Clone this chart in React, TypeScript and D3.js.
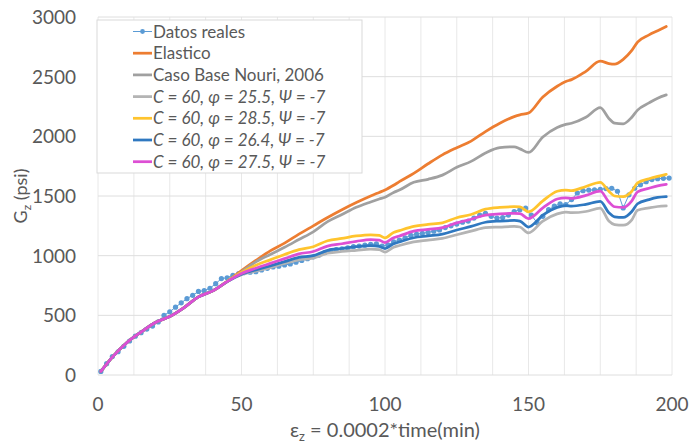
import React, { useRef, useEffect } from 'react';
import * as d3 from 'd3';

// x positions (strain units) shared by the model curves
const modelX = [1, 5, 10, 15, 20, 25, 30, 35, 40, 45, 50, 55, 60, 65, 70, 75, 80, 85, 90, 95, 98, 100, 103, 105, 110, 115, 120, 125, 130, 135, 140, 145, 147, 150, 155, 160, 163, 165, 170, 175, 178, 180, 183, 186, 188, 192, 195, 198];

const early = [30, 150, 270, 360, 440, 490, 565, 655, 705, 782];

const elastico = [...early.slice(0, 9), 785, 875, 960, 1040, 1105, 1180, 1250, 1320, 1385, 1445, 1500, 1530, 1550, 1590, 1620, 1690, 1770, 1845, 1905, 1960, 2040, 2110, 2165, 2180, 2195, 2330, 2420, 2460, 2475, 2545, 2630, 2610, 2605, 2645, 2720, 2790, 2850, 2885, 2920];
const casoBase = [...early, 865, 948, 1010, 1070, 1135, 1200, 1285, 1345, 1405, 1450, 1475, 1490, 1530, 1550, 1615, 1640, 1675, 1740, 1790, 1860, 1905, 1912, 1895, 1865, 1995, 2075, 2100, 2110, 2160, 2240, 2150, 2110, 2105, 2160, 2220, 2280, 2320, 2347];
const phi255 = [...early, 840, 870, 900, 935, 965, 980, 1020, 1035, 1045, 1055, 1050, 1030, 1070, 1085, 1115, 1130, 1145, 1175, 1205, 1235, 1240, 1245, 1240, 1190, 1290, 1350, 1365, 1360, 1370, 1398, 1290, 1260, 1255, 1300, 1380, 1400, 1412, 1417];
const phi285 = [...early.slice(0, 9), 785, 860, 920, 965, 1010, 1050, 1075, 1125, 1145, 1165, 1175, 1170, 1150, 1195, 1210, 1245, 1262, 1275, 1318, 1345, 1390, 1405, 1410, 1408, 1368, 1460, 1540, 1550, 1545, 1580, 1615, 1540, 1500, 1495, 1540, 1610, 1645, 1665, 1682];
const phi264 = [...early, 845, 880, 915, 950, 985, 1000, 1045, 1060, 1075, 1085, 1078, 1060, 1100, 1115, 1150, 1165, 1180, 1215, 1245, 1280, 1290, 1295, 1290, 1240, 1340, 1405, 1420, 1415, 1430, 1455, 1360, 1325, 1320, 1370, 1435, 1470, 1488, 1495];
const phi275 = [...early, 850, 895, 935, 975, 1015, 1035, 1080, 1100, 1120, 1135, 1130, 1110, 1150, 1165, 1205, 1220, 1235, 1275, 1305, 1340, 1350, 1355, 1353, 1310, 1400, 1475, 1485, 1480, 1505, 1540, 1450, 1410, 1405, 1460, 1535, 1565, 1585, 1598];

// measured data, every 2 strain units
const realX = d3.range(1, 200, 2);
const realY = [30, 95, 155, 195, 240, 285, 325, 355, 385, 410, 445, 500, 530, 568, 605, 640, 668, 700, 707, 727,
  765, 808, 815, 835, 850, 858, 862, 866, 880, 894, 905, 912, 922, 930, 945, 960, 975, 990, 1005, 1025,
  1040, 1050, 1058, 1065, 1075, 1080, 1088, 1095, 1098, 1080, 1090, 1115, 1130, 1150, 1170, 1180, 1188, 1195, 1205, 1215,
  1235, 1250, 1265, 1280, 1290, 1315, 1340, 1355, 1330, 1315, 1320, 1340, 1370, 1385, 1398, 1340, 1275, 1330, 1385, 1415,
  1435, 1428, 1470, 1525, 1545, 1550, 1552, 1556, 1562, 1565, 1540, 1400, 1510, 1565, 1595, 1620, 1638, 1645, 1648, 1650];

const xTicks = [0, 50, 100, 150, 200];
const yTicks = [0, 500, 1000, 1500, 2000, 2500, 3000];

const models = [
  { name: 'Elastico', values: elastico, color: '#ED7D31', italic: false },
  { name: 'Caso Base Nouri, 2006', values: casoBase, color: '#A0A0A0', italic: false },
  { name: 'C = 60, φ = 25.5, Ψ = -7', values: phi255, color: '#B4B4B4', italic: true },
  { name: 'C = 60, φ = 28.5, Ψ = -7', values: phi285, color: '#FFC42E', italic: true },
  { name: 'C = 60, φ = 26.4, Ψ = -7', values: phi264, color: '#2F78C0', italic: true },
  { name: 'C = 60, φ = 27.5, Ψ = -7', values: phi275, color: '#DD4FD4', italic: true },
];

const FONT = 'Lato, "Open Sans", sans-serif';
const TEXT = '#595959';

const App = () => {
  const svgRef = useRef(null);

  useEffect(() => {
    const width = 693;
    const height = 443;
    const margin = { top: 17, right: 21, bottom: 68, left: 98 };
    const innerWidth = width - margin.left - margin.right;
    const innerHeight = height - margin.top - margin.bottom;

    const root = d3.select(svgRef.current);
    root.selectAll('*').remove();
    root.attr('width', width).attr('height', height);
    root.append('rect').attr('width', width).attr('height', height).attr('fill', '#fff');

    const svg = root.append('g').attr('transform', `translate(${margin.left},${margin.top})`);

    const x = d3.scaleLinear().domain([0, 200]).range([0, innerWidth]);
    const y = d3.scaleLinear().domain([0, 3000]).range([innerHeight, 0]);

    // vertical grid every 12.5
    svg.append('g')
      .selectAll('line')
      .data(d3.range(0, 200.01, 12.5))
      .join('line')
      .attr('x1', d => x(d)).attr('x2', d => x(d))
      .attr('y1', 0).attr('y2', innerHeight)
      .attr('stroke', '#e8e8e8').attr('stroke-width', 1);

    // horizontal grid
    svg.append('g')
      .selectAll('line')
      .data(yTicks)
      .join('line')
      .attr('x1', 0).attr('x2', innerWidth)
      .attr('y1', d => y(d)).attr('y2', d => y(d))
      .attr('stroke', '#dedede').attr('stroke-width', 1);

    // axis tick labels
    svg.append('g')
      .selectAll('text')
      .data(yTicks)
      .join('text')
      .attr('x', -22).attr('y', d => y(d))
      .attr('dy', '0.36em')
      .attr('text-anchor', 'end')
      .attr('font-family', FONT).attr('font-size', 19).attr('fill', TEXT)
      .text(d => d);

    svg.append('g')
      .selectAll('text')
      .data(xTicks)
      .join('text')
      .attr('x', d => x(d)).attr('y', innerHeight + 36)
      .attr('text-anchor', 'middle')
      .attr('font-family', FONT).attr('font-size', 19).attr('fill', TEXT)
      .text(d => d);

    // measured data (thin line with dots)
    const realPts = realX.map((d, i) => [d, realY[i]]);
    svg.append('path')
      .datum(realPts)
      .attr('fill', 'none')
      .attr('stroke', '#5B9BD5')
      .attr('stroke-width', 1)
      .attr('d', d3.line().x(d => x(d[0])).y(d => y(d[1])));
    svg.append('g')
      .selectAll('circle')
      .data(realPts)
      .join('circle')
      .attr('cx', d => x(d[0])).attr('cy', d => y(d[1]))
      .attr('r', 2.6)
      .attr('fill', '#5B9BD5');

    // model curves
    const line = d3.line()
      .x(d => x(d[0]))
      .y(d => y(d[1]))
      .curve(d3.curveMonotoneX);

    models.forEach(m => {
      svg.append('path')
        .datum(modelX.map((d, i) => [d, m.values[i]]))
        .attr('fill', 'none')
        .attr('stroke', m.color)
        .attr('stroke-width', 2.75)
        .attr('stroke-linejoin', 'round')
        .attr('stroke-linecap', 'round')
        .attr('d', line);
    });

    // legend
    const lg = root.append('g').attr('transform', 'translate(97,20)');
    lg.append('rect')
      .attr('width', 265).attr('height', 153)
      .attr('fill', '#fff').attr('stroke', '#d9d9d9').attr('stroke-width', 1);

    const entries = [{ name: 'Datos reales', color: '#5B9BD5', italic: false, real: true }, ...models];
    entries.forEach((e, i) => {
      const cy = 11.5 + i * 21.7;
      const g = lg.append('g').attr('transform', `translate(0,${cy})`);
      g.append('line')
        .attr('x1', 36).attr('x2', 55)
        .attr('stroke', e.color)
        .attr('stroke-width', e.real ? 1 : 2.75);
      if (e.real) {
        g.append('circle').attr('cx', 45.5).attr('r', 2.4).attr('fill', e.color);
      }
      g.append('text')
        .attr('x', 56).attr('dy', '0.36em')
        .attr('font-family', FONT).attr('font-size', 17).attr('fill', TEXT)
        .attr('font-style', e.italic ? 'italic' : 'normal')
        .text(e.name);
    });

    // axis titles
    const yt = root.append('text')
      .attr('transform', 'translate(27,196) rotate(-90)')
      .attr('text-anchor', 'middle')
      .attr('font-family', FONT).attr('font-size', 18).attr('fill', TEXT);
    yt.append('tspan').text('G');
    yt.append('tspan').attr('font-size', 12).attr('dy', 4).text('z');
    yt.append('tspan').attr('dy', -4).text(' (psi)');

    const xt = root.append('text')
      .attr('x', 385).attr('y', 437)
      .attr('text-anchor', 'middle')
      .attr('font-family', FONT).attr('font-size', 20).attr('fill', TEXT);
    xt.append('tspan').text('ε');
    xt.append('tspan').attr('font-size', 13).attr('dy', 4).text('z');
    xt.append('tspan').attr('dy', -4).text(' = 0.0002*time(min)');
  }, []);

  return (
    <div style={{ position: 'absolute', left: 0, top: 0, width: 693, height: 443 }}>
      <svg ref={svgRef} style={{ display: 'block' }}></svg>
    </div>
  );
};

export default App;
